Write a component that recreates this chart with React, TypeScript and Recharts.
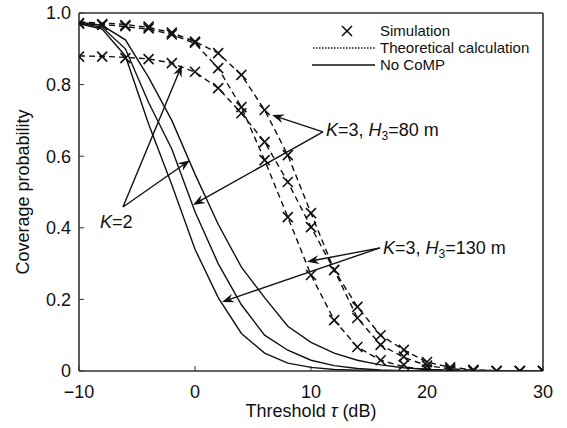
import React from 'react';
import {
  ComposedChart, Line, Scatter, XAxis, YAxis, ReferenceLine, ReferenceDot, Legend,
} from 'recharts';

// threshold grid (dB)
const thresholds = [-10, -8, -6, -4, -2, 0, 2, 4, 6, 8, 10, 12, 14, 16, 18, 20, 22, 24, 26, 28, 30];

// theoretical calculation (dashed)
const theoryK2 = [0.88, 0.879, 0.876, 0.872, 0.86, 0.835, 0.79, 0.72, 0.64, 0.528, 0.402, 0.282, 0.148, 0.073, 0.038, 0.015, 0.006, 0.002, 0.001, 0, 0];
const theoryH80 = [0.975, 0.972, 0.968, 0.96, 0.945, 0.92, 0.888, 0.827, 0.729, 0.603, 0.441, 0.282, 0.179, 0.1, 0.059, 0.025, 0.01, 0.004, 0.001, 0, 0];
const theoryH130 = [0.97, 0.968, 0.962, 0.955, 0.94, 0.915, 0.846, 0.737, 0.589, 0.43, 0.268, 0.142, 0.067, 0.03, 0.012, 0.004, 0.001, 0, 0, 0, 0];

// simulation (x markers)
const simK2 = [0.878, 0.878, 0.874, 0.871, 0.86, 0.836, 0.79, 0.72, 0.64, 0.528, 0.402, 0.282, 0.148, 0.073, 0.04, 0.015, 0.005, 0.002, 0, 0, 0];
const simH80 = [0.972, 0.969, 0.966, 0.962, 0.945, 0.92, 0.888, 0.827, 0.729, 0.603, 0.441, 0.282, 0.179, 0.1, 0.059, 0.025, 0.01, 0.003, 0, 0, 0];
const simH130 = [0.97, 0.967, 0.963, 0.957, 0.94, 0.917, 0.846, 0.737, 0.589, 0.43, 0.268, 0.142, 0.067, 0.03, 0.017, 0.004, 0.001, 0, 0, 0, 0];

// no CoMP (solid)
const noCompK2 = [0.975, 0.965, 0.925, 0.82, 0.7, 0.55, 0.41, 0.29, 0.205, 0.125, 0.08, 0.05, 0.03, 0.017, 0.009, 0.004, 0.002, 0.001, 0, 0, 0];
const noComp80 = [0.972, 0.96, 0.9, 0.75, 0.62, 0.445, 0.3, 0.185, 0.1, 0.058, 0.03, 0.015, 0.007, 0.003, 0.001, 0, 0, 0, 0, 0, 0];
const noComp130 = [0.97, 0.955, 0.88, 0.69, 0.52, 0.34, 0.205, 0.105, 0.05, 0.022, 0.01, 0.004, 0.002, 0.001, 0, 0, 0, 0, 0, 0, 0];

const xTicks = [-10, 0, 10, 20, 30];
const yTicks = [0, 0.2, 0.4, 0.6, 0.8, 1.0];

// annotation arrows: [from, to] in data units
const arrowsK2 = [[-6.21, 0.458, -1.12, 0.855], [-6.21, 0.458, -0.43, 0.589]];
const arrowsH80 = [[11.03, 0.668, 6.64, 0.715], [11.03, 0.668, -0.17, 0.464]];
const arrowsH130 = [[15.95, 0.344, 9.66, 0.305], [15.95, 0.344, 2.33, 0.193]];
const arrows = [...arrowsK2, ...arrowsH80, ...arrowsH130];

const rows = thresholds.map((x, i) => ({
  x,
  tK2: theoryK2[i], tH80: theoryH80[i], tH130: theoryH130[i],
  nK2: noCompK2[i], n80: noComp80[i], n130: noComp130[i],
}));
const pts = (ys: number[]) => thresholds.map((x, i) => ({ x, y: ys[i] }));

const FONT = '"Liberation Sans", Arial, sans-serif';
const INK = '#111';

const XMark = (props: any) => {
  const { cx, cy } = props;
  const s = 5;
  return (
    <g stroke={INK} strokeWidth={1.6}>
      <line x1={cx - s} y1={cy - s} x2={cx + s} y2={cy + s} />
      <line x1={cx - s} y1={cy + s} x2={cx + s} y2={cy - s} />
    </g>
  );
};

const Arrow = (props: any) => {
  const { x1, y1, x2, y2 } = props;
  const a = Math.atan2(y2 - y1, x2 - x1);
  const L = 12, W = 4.5, N = 8;
  const bx = x2 - L * Math.cos(a), by = y2 - L * Math.sin(a);
  const nx = x2 - N * Math.cos(a), ny = y2 - N * Math.sin(a);
  const px = -Math.sin(a) * W, py = Math.cos(a) * W;
  return (
    <g>
      <line x1={x1} y1={y1} x2={nx} y2={ny} stroke={INK} strokeWidth={1.4} />
      <polygon points={`${x2},${y2} ${bx + px},${by + py} ${nx},${ny} ${bx - px},${by - py}`} fill={INK} />
    </g>
  );
};

const labelShape = (kind: string) => (props: any) => {
  const { cx, cy } = props;
  const y = cy + 6;
  if (kind === 'k2') {
    return (
      <text x={cx} y={y} fontSize={18} fontFamily={FONT} fill={INK}>
        <tspan fontStyle="italic">K</tspan>=2
      </text>
    );
  }
  const h = kind === 'h80' ? '80' : '130';
  return (
    <text x={cx} y={y} fontSize={18} fontFamily={FONT} fill={INK}>
      <tspan fontStyle="italic">K</tspan>=3, <tspan fontStyle="italic">H</tspan>
      <tspan fontSize={12} dy={4}>3</tspan>
      <tspan dy={-4}>{`=${h} m`}</tspan>
    </text>
  );
};

const LegendBox = () => (
  <svg width={250} height={58} style={{ display: 'block' }}>
    <g fontFamily={FONT} fontSize={15} fill={INK}>
      <XMark cx={42} cy={10} />
      <text x={75} y={15}>Simulation</text>
      <line x1={8} y1={27} x2={71} y2={27} stroke={INK} strokeWidth={1.3} strokeDasharray="1.5 1.5" />
      <text x={75} y={32}>Theoretical calculation</text>
      <line x1={7} y1={44} x2={70} y2={44} stroke={INK} strokeWidth={1.5} />
      <text x={75} y={49}>No CoMP</text>
    </g>
  </svg>
);

const fmtX = (v: number) => (v < 0 ? `\u2212${Math.abs(v)}` : String(v));
const fmtY = (v: number) => (v === 0 ? '0' : v.toFixed(1));

export default function App() {
  const axisStroke = { stroke: '#333', strokeWidth: 1.6 };
  const tickStyle = { fill: INK, fontSize: 18, fontFamily: FONT };
  const dash = '6 4';
  return (
    <div style={{ position: 'absolute', left: 0, top: 0, width: 567, height: 428, background: '#fff', fontFamily: FONT }}>
      <ComposedChart width={567} height={428} data={rows} margin={{ top: 3, right: 14, bottom: 0, left: 0 }}>
        <XAxis
          dataKey="x" type="number" domain={[-10, 30]} ticks={xTicks} allowDataOverflow
          tickFormatter={fmtX} tick={tickStyle} tickSize={-5} tickMargin={19} height={57}
          axisLine={axisStroke} tickLine={{ stroke: '#333' }}
          label={(p: any) => {
            const vb = p.viewBox;
            return (
              <text x={vb.x + vb.width / 2} y={vb.y + 46} textAnchor="middle" fontSize={18} fontFamily={FONT} fill={INK}>
                Threshold <tspan fontStyle="italic">τ</tspan> (dB)
              </text>
            );
          }}
        />
        <XAxis xAxisId="top" orientation="top" type="number" domain={[-10, 30]} ticks={xTicks} allowDataOverflow
          tick={false} tickSize={-5} height={10} axisLine={axisStroke} tickLine={{ stroke: '#333' }} />
        <YAxis
          type="number" domain={[0, 1]} ticks={yTicks} allowDataOverflow width={79}
          tickFormatter={fmtY} tick={tickStyle} tickSize={-5} tickMargin={13}
          axisLine={axisStroke} tickLine={{ stroke: '#333' }}
          label={(p: any) => {
            const vb = p.viewBox;
            const cx = vb.x + 24, cy = vb.y + vb.height / 2;
            return (
              <text x={cx} y={cy} transform={`rotate(-90 ${cx} ${cy})`} textAnchor="middle" dominantBaseline="middle"
                fontSize={18} fontFamily={FONT} fill={INK}>
                Coverage probability
              </text>
            );
          }}
        />
        <YAxis yAxisId="right" orientation="right" type="number" domain={[0, 1]} ticks={yTicks} allowDataOverflow width={10}
          tick={false} tickSize={-5} axisLine={axisStroke} tickLine={{ stroke: '#333' }} />

        <Line dataKey="n130" stroke={INK} strokeWidth={1.4} dot={false} activeDot={false} isAnimationActive={false} />
        <Line dataKey="n80" stroke={INK} strokeWidth={1.4} dot={false} activeDot={false} isAnimationActive={false} />
        <Line dataKey="nK2" stroke={INK} strokeWidth={1.4} dot={false} activeDot={false} isAnimationActive={false} />
        <Line dataKey="tK2" stroke={INK} strokeWidth={1.4} strokeDasharray={dash} dot={false} activeDot={false} isAnimationActive={false} />
        <Line dataKey="tH80" stroke={INK} strokeWidth={1.4} strokeDasharray={dash} dot={false} activeDot={false} isAnimationActive={false} />
        <Line dataKey="tH130" stroke={INK} strokeWidth={1.4} strokeDasharray={dash} dot={false} activeDot={false} isAnimationActive={false} />

        <Scatter data={pts(simK2)} dataKey="y" shape={XMark} isAnimationActive={false} />
        <Scatter data={pts(simH80)} dataKey="y" shape={XMark} isAnimationActive={false} />
        <Scatter data={pts(simH130)} dataKey="y" shape={XMark} isAnimationActive={false} />

        {arrows.map((a, i) => (
          <ReferenceLine key={`ar${i}`} segment={[{ x: a[0], y: a[1] }, { x: a[2], y: a[3] }]} shape={Arrow} ifOverflow="visible" />
        ))}
        <ReferenceDot x={-8.19} y={0.416} r={0} shape={labelShape('k2')} ifOverflow="visible" />
        <ReferenceDot x={11.29} y={0.673} r={0} shape={labelShape('h80')} ifOverflow="visible" />
        <ReferenceDot x={16.21} y={0.344} r={0} shape={labelShape('h130')} ifOverflow="visible" />

        <Legend layout="vertical" align="center" verticalAlign="middle" content={() => <LegendBox />}
          wrapperStyle={{ top: 21, left: 305, width: 250, height: 58 }} />
      </ComposedChart>
    </div>
  );
}
